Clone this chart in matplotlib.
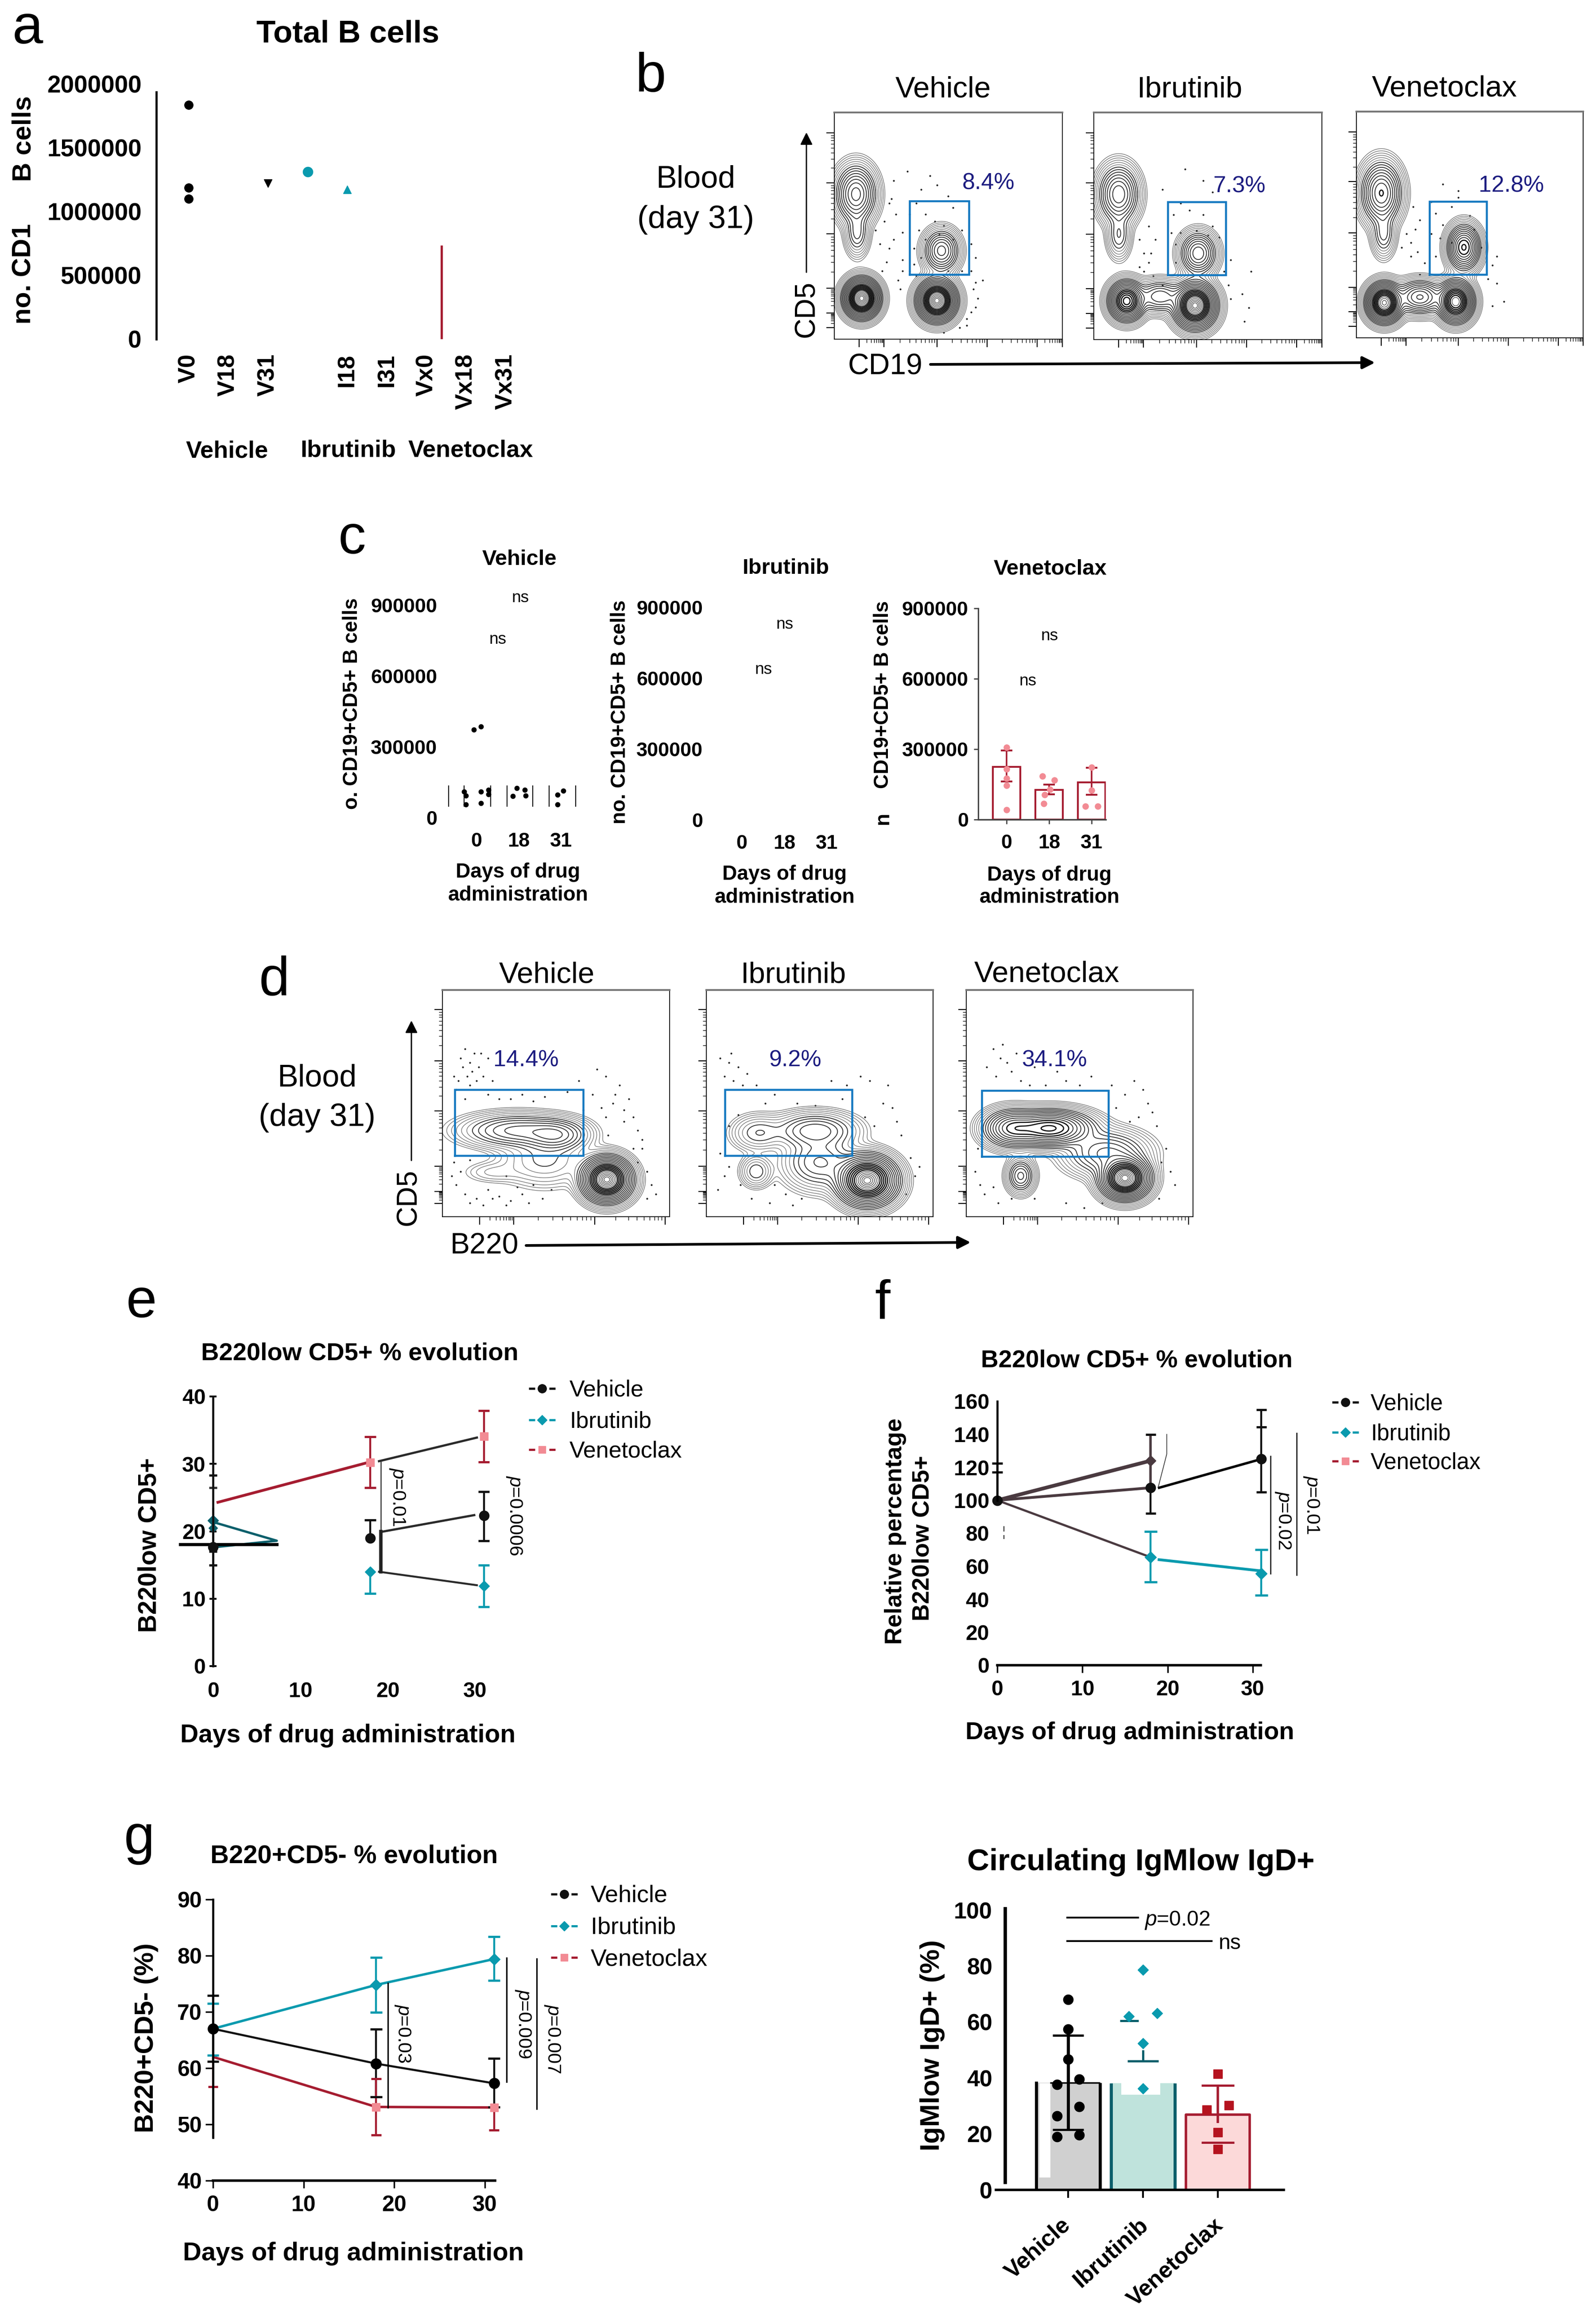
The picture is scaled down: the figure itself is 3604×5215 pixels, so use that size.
import numpy as np
import matplotlib
matplotlib.use('Agg')
import matplotlib.pyplot as plt

plt.rcParams['font.family'] = ['Liberation Sans', 'DejaVu Sans']
plt.rcParams['mathtext.fontset'] = 'custom'
plt.rcParams['mathtext.rm'] = 'Liberation Sans'
plt.rcParams['mathtext.it'] = 'Liberation Sans:italic'
plt.rcParams['mathtext.default'] = 'regular'

W, H = 3605, 5215
BLACK = '#111111'
TEAL = '#0a9aae'
DTEAL = '#0b5f6b'
RED = '#a51c30'
PINK = '#f28b94'
DARKLINE = '#4a3a40'
BLUE = '#1478c0'
NAVY = '#1c1c80'

# panel a
a_labels = ['V0', 'V18', 'V31', '', 'I18', 'I31', 'Vx0', 'Vx18', 'Vx31']
a_yticks = [0, 500000, 1000000, 1500000, 2000000]
a_v0 = [1834000, 1185000, 1100000]
a_v31 = [1220000]
a_i0 = [1310000]
a_i18 = [1172000]
a_vx_bar_pos = 6.38
a_vx_bar_top = 735000

# panel c
c_days = ['0', '18', '31']
c_yticks = [0, 300000, 600000, 900000]
c_veh_dot_x = [-.06, .1, -.29, -.25, .1, .28, .28, .1, -.25, .86, .95, 1.14, 1.16, 1.92, 2.05, 1.92]
c_veh_dot_y = [372700, 386000, 111000, 93000, 111000, 119000, 100000, 62500, 57000,
               91000, 125000, 119000, 93000, 96600, 113600, 57000]
c_veh_frag_x = [-.66, -.29, .34, .72, 1.33, 1.72, 2.35]
c_veh_frag_lo = 47700
c_veh_frag_hi = 136000
c_ven_bars = [225000, 126000, 159000]
c_ven_err_lo = [162000, 107500, 105000]
c_ven_err_hi = [294000, 149000, 220000]
c_ven_dot_x = [0, 0, 0, 0, 0, .84, 1.12, 1.02, .9, .88, 2, 2, 1.85, 2.15]
c_ven_dot_y = [308000, 216000, 175000, 145000, 42000, 185000, 168000, 128000, 105000, 67000,
               223000, 125000, 56000, 56000]

# panel e
days = [0, 18, 31]
e_veh = [17.7, 19.0, 22.3]
e_ibr = [21.6, 14.0, 11.9]
e_ven = [24.3, 30.2, 34.1]
e_veh_lo = [15.0, None, 18.6]
e_veh_hi = [28.3, 21.7, 25.9]
e_ibr_lo = [17.0, 10.8, 8.8]
e_ibr_hi = [None, None, 15.0]
e_ven_lo = [None, 26.5, 30.3]
e_ven_hi = [26.5, 34.0, 37.9]
e_ibr_extra = 20.5

# panel f
f_veh = [100, 107.6, 125]
f_ibr = [100, 65.5, 55.7]
f_ven = [100, 124, None]
f_veh_lo = [None, 92, 105]
f_veh_hi = [122.5, 140, 155]
f_ibr_lo = [None, 50.4, 42.3]
f_ibr_hi = [None, 81, 70]
f_ven_hi31 = 144.5
f_ven_hi0 = 117
f_stray_x = [.8, .8]
f_stray_lo = [81, 76.5]
f_stray_hi = [84.3, 79]

# panel g
g_veh = [67, 60.8, 57.3]
g_ibr = [67, 74.8, 79.4]
g_ven = [62, 53.1, 53.0]
g_veh_lo = [61.2, 54.9, 53.1]
g_veh_hi = [72.9, 66.9, 61.7]
g_ibr_lo = [62.3, 69.9, 75.6]
g_ibr_hi = [71.5, 79.7, 83.4]
g_ven_lo = [56.7, 48.1, 49.0]
g_ven_hi = [None, 58.1, None]

# panel h
h_groups = ['Vehicle', 'Ibrutinib', 'Venetoclax']
h_means = [38.3, 38.2, 26.9]
h_err_lo = [21.5, None, 16.9]
h_err_hi = [55.2, 46.0, 37.4]
h_veh_x = [0, 0, 0, .15, -.15, .15, -.15, -.15, .15]
h_veh_y = [68, 57.5, 46.6, 39.5, 37.6, 29.7, 26.5, 19, 19.6]
h_ibr_x = [1, .81, 1.19, 1, 1]
h_ibr_y = [78.6, 62, 63.2, 52.3, 36.3]
h_ven_x = [2, 1.85, 2.15, 2, 2]
h_ven_y = [41.4, 28.6, 30.3, 20.5, 14.5]

# flow plots: populations (x, y, sx, sy, weight), percent of the box
b_veh_pops = [(9.5, 64, 4.2, 6.0, .3), (10, 47, 2.6, 5, .08), (12, 18, 3.6, 4.0, 1), (45, 17, 3.9, 4.2, 1), (47, 39, 3.7, 4.4, .24)]
b_ibr_pops = [(10.9, 64, 4.2, 6.0, .26), (11, 46, 2.6, 5, .07), (14.4, 17, 3.6, 4.0, .7), (44.4, 15, 4.2, 4.6, 1),
              (29, 19, 5, 3.5, .16), (45.8, 38, 3.8, 4.4, .26)]
b_ven_pops = [(11, 64, 4.2, 6.4, .34), (12, 46, 2.6, 5, .08), (12.3, 15.5, 3.6, 4.0, .9), (43.8, 16, 3.6, 4.2, .8),
              (28, 18, 5, 3.6, .28), (47.4, 40, 3.4, 4.6, .42)]
b_veh_gate = (33, 59, 28.6, 61)
b_ibr_gate = (32.4, 57.8, 28.4, 60.6)
b_ven_gate = (32.3, 57.5, 28, 60.2)
d_veh_pops = [(72.4, 16.4, 5, 4.5, 1), (33, 38, 12, 3.7, .14), (50, 36, 7, 3.5, .14), (22, 19.6, 7, 2.6, .012), (45, 25, 10, 6, .04)]
d_ibr_pops = [(71, 16, 6, 5, 1), (48, 38, 9, 4, .12), (23, 37, 6, 4, .05), (22, 20, 3.5, 3.5, .05), (50, 24, 8, 6, .1)]
d_ven_pops = [(70, 17, 5, 4.2, 1), (37, 39, 9, 3.8, .5), (20, 39, 6, 4, .3), (24, 18, 3, 3.7, .14), (62, 28, 9, 5, .14)]
d_veh_gate = (5.5, 62, 27, 56)
d_ibr_gate = (8.2, 64.2, 27, 56)
d_ven_gate = (6.8, 62.6, 26.6, 55.6)

# stray events outside the contours, read by eye
b_veh_dots = [(30, 47), (33, 55), (36, 60), (38, 66), (42, 72), (45, 68), (50, 63), (52, 58), (40, 55), (44, 52), (48, 50),
              (37, 48), (56, 48), (60, 42), (62, 36), (60, 30), (62, 25), (63, 18), (60, 12), (58, 9), (55, 5), (48, 3),
              (30, 30), (28, 26), (29, 22), (30, 35), (27, 55), (25, 62), (26, 70), (32, 74), (35, 33), (33, 30), (40, 44),
              (46, 46), (52, 44), (24, 40), (26, 44), (23, 34), (21, 30), (61, 22), (62, 14), (58, 6), (35, 40), (38, 36), (56, 30),
              (18, 48), (20, 42), (22, 52), (24, 60), (50, 30), (36, 28), (65, 26)]
b_ibr_dots = [(25, 38), (24, 34), (22, 30), (26, 28), (30, 24), (35, 55), (38, 60), (42, 57), (48, 55), (52, 50), (45, 48),
              (38, 47), (36, 42), (55, 45), (60, 35), (69, 30), (65, 20), (68, 14), (66, 8), (30, 66), (40, 75), (48, 70), (52, 65),
              (20, 44), (22, 38), (24, 50), (20, 32), (27, 44), (57, 30), (59, 24), (60, 18), (36, 34), (34, 47), (50, 46)]
b_ven_dots = [(24, 42), (27, 38), (30, 33), (28, 28), (33, 60), (35, 55), (38, 50), (42, 58), (45, 62), (50, 54), (37, 44),
              (42, 42), (55, 40), (60, 32), (62, 24), (60, 14), (45, 65), (38, 68), (28, 52), (25, 58), (22, 46), (24, 36),
              (26, 48), (20, 40), (35, 36), (33, 46), (62, 36), (58, 26), (65, 16), (52, 48)]
d_veh_dots = [(8, 70), (10, 74), (12, 68), (14, 72), (16, 66), (18, 62), (20, 70), (5, 62), (7, 60), (12, 58), (22, 60), (15, 60),
              (10, 52), (20, 54), (30, 52), (35, 54), (45, 53), (60, 60), (68, 65), (72, 62), (78, 58), (82, 52), (75, 50), (70, 48),
              (84, 44), (86, 38), (80, 42), (66, 54), (62, 47), (88, 30), (86, 24), (92, 14), (90, 8), (12, 25), (8, 20), (6, 14),
              (10, 10), (15, 8), (20, 12), (25, 9), (30, 7), (35, 10), (38, 6), (18, 5), (28, 18), (40, 14),
              (9, 66), (13, 64), (17, 72), (11, 62), (6, 56), (25, 52), (40, 51), (55, 55), (76, 54), (80, 47), (72, 44), (88, 34),
              (90, 20), (94, 10), (5, 24), (4, 18), (12, 6), (22, 8), (33, 13), (44, 8), (48, 12), (28, 5), (73, 36), (84, 30)]
d_ibr_dots = [(6, 70), (10, 68), (14, 66), (8, 62), (12, 60), (18, 63), (22, 58), (30, 54), (40, 50), (55, 60), (62, 58), (68, 62),
              (72, 60), (78, 50), (82, 48), (70, 44), (74, 40), (86, 36), (90, 26), (92, 18), (88, 10), (30, 14), (35, 10), (28, 6),
              (10, 22), (6, 28), (5, 12), (42, 8), (14, 45), (10, 40), (11, 72), (16, 58), (26, 50), (48, 49), (60, 52), (80, 58),
              (84, 42), (94, 22), (38, 5), (20, 8), (15, 14), (8, 18)]
d_ven_dots = [(12, 74), (15, 70), (18, 68), (9, 66), (13, 62), (20, 64), (24, 60), (30, 66), (35, 58), (44, 60), (55, 62), (64, 58),
              (70, 54), (74, 60), (80, 50), (76, 44), (84, 40), (88, 30), (90, 20), (85, 8), (12, 13), (8, 10), (20, 8), (30, 8),
              (44, 6), (52, 4), (5, 30), (4, 20), (66, 48), (72, 42), (16, 76), (22, 72), (28, 58), (40, 64), (50, 58), (78, 56),
              (82, 46), (86, 24), (92, 14), (60, 6), (14, 6), (6, 14)]

fig = plt.figure(figsize=(W / 100, H / 100), dpi=100)
fig.patch.set_facecolor('white')

# page axes in image pixels, for the free text and arrows
page = fig.add_axes([0, 0, 1, 1], zorder=20)
page.set_xlim(0, W)
page.set_ylim(H, 0)
page.axis('off')
page.patch.set_alpha(0)


def ax_px(l, t, r, b):
    ax = fig.add_axes([l / W, 1 - b / H, (r - l) / W, (b - t) / H])
    ax.patch.set_alpha(0)
    return ax


def put(x, y, s, px, bold=False, rot=0, color='black', ha='center', va='center', style='normal'):
    # +4: centre anchoring sits a little high against the reference
    page.text(x, y + 4, s, fontsize=px * .72, fontweight='bold' if bold else 'normal', rotation=rot,
              color=color, ha=ha, va=va, fontstyle=style, rotation_mode='anchor')


def arrow(x0, y0, x1, y1, lw_px):
    page.annotate('', xy=(x1, y1), xytext=(x0, y0),
                  arrowprops=dict(arrowstyle='-|>', lw=lw_px * .72, color='black', mutation_scale=42, shrinkA=0, shrinkB=0))


def clean(ax, keep=()):
    for k in ['left', 'right', 'top', 'bottom']:
        ax.spines[k].set_visible(k in keep)


# panel letters
for s, x, y in [('a', 63, 62), ('b', 1470, 171), ('c', 795, 1214), ('d', 620, 2212),
                ('e', 319, 2939), ('f', 1993, 2942), ('g', 315, 4150)]:
    put(x, y, s, 125)

# ---- a ----
put(786, 73, 'Total B cells', 71, bold=True)
ax = ax_px(353, 189, 1200, 766)
ax.set_xlim((353 - 426) / 89.5, (1200 - 426) / 89.5)
ax.set_ylim(0, 2000000)
clean(ax, ['left'])
ax.spines['left'].set_bounds(0, 1934000)
ax.spines['left'].set_linewidth(5 * .72)
ax.spines['left'].set_color(BLACK)
ax.set_yticks(a_yticks)
ax.set_yticklabels([str(v) for v in a_yticks], fontsize=55 * .72, fontweight='bold')
ax.set_xticks(range(len(a_labels)))
ax.set_xticklabels(a_labels, fontsize=54 * .72, fontweight='bold', rotation=90)
ax.tick_params(axis='y', length=0, pad=24)
ax.tick_params(axis='x', length=0, pad=24)
ax.plot([0] * len(a_v0), a_v0, 'o', color='black', ms=14)
ax.plot([2], a_v31, 'v', color='black', ms=13)
ax.plot([3], a_i0, 'o', color=TEAL, ms=16)
ax.plot([4], a_i18, '^', color=TEAL, ms=13)
ax.vlines(a_vx_bar_pos, 0, a_vx_bar_top, color=RED, lw=3.6)
put(54, 615, 'no. CD1', 60, bold=True, rot=90)
put(54, 309, 'B cells', 60, bold=True, rot=90)
put(513, 1015, 'Vehicle', 54, bold=True)
put(786, 1014, 'Ibrutinib', 54, bold=True)
put(1063, 1014, 'Venetoclax', 54, bold=True)


# ---- flow plots ----
def flow(box, pops, gate, dots, xmaj, ymaj, lw_gate=4.5):
    ax = ax_px(*box)
    ax.set_xlim(0, 100)
    ax.set_ylim(0, 100)
    gx, gy = np.meshgrid(np.linspace(0, 100, 600), np.linspace(0, 100, 600))
    z = np.zeros_like(gx)
    for cx, cy, sx, sy, w in pops:
        z += w * np.exp(-.5 * (((gx - cx) / sx) ** 2 + ((gy - cy) / sy) ** 2))
    # levels evenly spaced in radius, dark ring around a paler centre
    radii = np.linspace(3.4, .25, 24)
    levels = np.exp(-.5 * radii ** 2)
    widths = []
    cols = []
    for r in radii:
        if r > 2.6:
            widths.append(.9)
            cols.append('#666666')
        elif r > 1.6:
            widths.append(1.4)
            cols.append('#333333')
        elif r > .8:
            widths.append(1.9)
            cols.append('#111111')
        else:
            widths.append(1.0)
            cols.append('#444444')
    ax.contour(gx, gy, z, levels=levels, colors=cols, linewidths=widths)
    ax.scatter([d[0] for d in dots], [d[1] for d in dots], s=9, color='#222222', lw=0)
    x0, x1, y0, y1 = gate
    ax.plot([x0, x1, x1, x0, x0], [y0, y0, y1, y1, y0], color=BLUE, lw=lw_gate * .72, solid_joinstyle='miter')
    # biexponential style ticks
    ax.set_xticks(xmaj)
    ax.set_yticks(ymaj)
    step = [.3, .48, .6, .7, .78, .85, .9, .95]
    xmin = [a + f * (b - a) for a, b in zip(xmaj[:-1], xmaj[1:]) for f in step]
    ymin = [a + f * (b - a) for a, b in zip(ymaj[:-1], ymaj[1:]) for f in step]
    ax.set_xticks([v for v in xmin if v < 100], minor=True)
    ax.set_yticks([v for v in ymin if v < 100], minor=True)
    ax.tick_params(which='major', length=13, width=1.6, labelbottom=False, labelleft=False)
    ax.tick_params(which='minor', length=6, width=1)
    for k in ['left', 'bottom', 'right']:
        ax.spines[k].set_linewidth(1.3)
    ax.spines['top'].set_linewidth(3)
    ax.spines['top'].set_color('#777777')
    return ax


b_xt = [10.9, 21.8, 45, 67, 89, 100]
b_yt = [5, 11.5, 22.4, 46.4, 69, 91]
flow((1884, 254, 2399, 766), b_veh_pops, b_veh_gate, b_veh_dots, b_xt, b_yt)
flow((2470, 254, 2985, 767), b_ibr_pops, b_ibr_gate, b_ibr_dots, b_xt, b_yt)
flow((3063, 252, 3575, 763), b_ven_pops, b_ven_gate, b_ven_dots, b_xt, b_yt)
put(2130, 198, 'Vehicle', 67)
put(2687, 198, 'Ibrutinib', 67)
put(3262, 197, 'Venetoclax', 67)
put(2232, 410, '8.4%', 52, color=NAVY)
put(2799, 417, '7.3%', 52, color=NAVY)
put(3413, 416, '12.8%', 52, color=NAVY)
put(1571, 401, 'Blood', 70)
put(1571, 493, '(day 31)', 72)
arrow(1821, 615, 1821, 299, 3)
put(1821, 694, 'CD5', 64, rot=90)
put(1999, 824, 'CD19', 66)
arrow(2101, 823, 3105, 819, 6)

d_xt = [16.4, 31.4, 67, 98]
d_yt = [5.9, 11.2, 22.2, 46.7, 68.7, 91.4]
flow((999, 2236, 1512, 2748), d_veh_pops, d_veh_gate, d_veh_dots, d_xt, d_yt)
flow((1595, 2236, 2107, 2748), d_ibr_pops, d_ibr_gate, d_ibr_dots, d_xt, d_yt)
flow((2182, 2236, 2694, 2748), d_ven_pops, d_ven_gate, d_ven_dots, d_xt, d_yt)
put(1235, 2198, 'Vehicle', 67)
put(1792, 2198, 'Ibrutinib', 67)
put(2364, 2196, 'Venetoclax', 67)
put(1188, 2391, '14.4%', 52, color=NAVY)
put(1796, 2391, '9.2%', 52, color=NAVY)
put(2381, 2391, '34.1%', 52, color=NAVY)
put(716, 2432, 'Blood', 70)
put(716, 2520, '(day 31)', 72)
arrow(929, 2621, 929, 2305, 3)
put(922, 2700, 'CD5', 64, rot=90)
put(1094, 2811, 'B220', 66)
arrow(1188, 2813, 2192, 2806, 6)


# ---- c ----
def c_axes(l, t, r, b, c0, step):
    ax = ax_px(l, t, r, b)
    ax.set_xlim((l - c0) / step, (r - c0) / step)
    ax.set_ylim(0, 900000)
    clean(ax)
    ax.set_yticks(c_yticks)
    ax.set_yticklabels([str(v) for v in c_yticks], fontsize=45 * .72, fontweight='bold')
    ax.set_xticks(range(3))
    ax.set_xticklabels(c_days, fontsize=45 * .72, fontweight='bold')
    ax.tick_params(axis='y', length=0, pad=9)
    ax.tick_params(axis='x', length=0, pad=24)
    return ax


ax = c_axes(1000, 1367, 1310, 1847, 1076, 95.5)
ax.vlines(c_veh_frag_x, c_veh_frag_lo, c_veh_frag_hi, color=BLACK, lw=1.6)
ax.plot(c_veh_dot_x, c_veh_dot_y, 'o', color='black', ms=7.5, clip_on=False, ls='none')

ax = c_axes(1600, 1372, 1900, 1852, 1675, 96)

ax = c_axes(2209, 1374, 2497, 1851, 2273, 96)
ax.spines['left'].set_visible(True)
ax.spines['left'].set_color('#444444')
ax.spines['left'].set_linewidth(2.2)
ax.spines['bottom'].set_visible(True)
ax.spines['bottom'].set_color('#444444')
ax.spines['bottom'].set_linewidth(2.5)
ax.tick_params(axis='y', length=7, width=2, color='#444444', pad=9)
ax.tick_params(axis='x', length=7, width=2, color='#444444', pad=17)
ax.bar(range(3), c_ven_bars, width=.64, facecolor='white', edgecolor=RED, lw=3)
for i in range(3):
    ax.vlines(i, c_ven_err_lo[i], c_ven_err_hi[i], color=RED, lw=2.6)
    ax.hlines([c_ven_err_lo[i], c_ven_err_hi[i]], i - .14, i + .14, color=RED, lw=3)
ax.plot(c_ven_dot_x, c_ven_dot_y, 'o', color=PINK, ms=9.5, ls='none')

put(1173, 1259, 'Vehicle', 49, bold=True)
put(1775, 1280, 'Ibrutinib', 49, bold=True)
put(2372, 1282, 'Venetoclax', 49, bold=True)
put(795, 1585, 'o. CD19+CD5+ B cells', 46, bold=True, rot=90)
put(1400, 1604, 'no. CD19+CD5+ B cells', 46, bold=True, rot=90)
put(1994, 1565, 'CD19+CD5+ B cells', 46, bold=True, rot=90)
put(1994, 1844, 'n', 46, bold=True, rot=90)
for x, y in [(1175, 1347), (1124, 1440), (1772, 1406), (1724, 1509), (2370, 1433), (2321, 1535)]:
    put(x, y, 'ns', 37)
for x, y0, y1 in [(1170, 1966, 2018), (1772, 1971, 2023), (2370, 1973, 2023)]:
    put(x, y0, 'Days of drug', 46, bold=True)
    put(x, y1, 'administration', 46, bold=True)


# ---- line panels ----
def ebar(ax, x, lo, hi, col, cap, lw=3.6):
    if lo is not None:
        ax.hlines(lo, x - cap, x + cap, color=col, lw=lw, clip_on=False)
    if hi is not None:
        ax.hlines(hi, x - cap, x + cap, color=col, lw=lw, clip_on=False)


def stem(ax, x, lo, hi, col, lw=3.2):
    ax.vlines(x, lo, hi, color=col, lw=lw, clip_on=False)


def legend(xm, xt, ys, px, cols, mfc):
    names = ['Vehicle', 'Ibrutinib', 'Venetoclax']
    marks = ['o', 'D', 's']
    for name, m, y, c, f in zip(names, marks, ys, cols, mfc):
        page.plot([xm - 30, xm - 16], [y, y], color=c, lw=3.6, solid_capstyle='butt')
        page.plot([xm + 16, xm + 30], [y, y], color=c, lw=3.6, solid_capstyle='butt')
        page.plot([xm], [y], m, color=f, ms=14 if m == 'o' else 11)
        put(xt, y, name, px, ha='left')


def pval(x, y, s):
    put(x, y, r'$\mathit{p}$=' + s, 43, rot=-90)


# e
ax = ax_px(481, 3154, 1100, 3763)
ax.set_xlim(0, (1100 - 481) / 19.73)
ax.set_ylim(0, 40)
clean(ax, ['left'])
ax.spines['left'].set_linewidth(3.4)
ax.spines['left'].set_color(BLACK)
ax.set_xticks([0, 10, 20, 30])
ax.set_yticks([0, 10, 20, 30, 40])
ax.tick_params(axis='x', length=0, labelsize=48 * .72, pad=25)
ax.tick_params(axis='y', length=12, width=3, labelsize=48 * .72, pad=6, direction='inout')
for t in ax.get_xticklabels() + ax.get_yticklabels():
    t.set_fontweight('bold')
# the day 0 to 18 parts of the series are broken up in the figure
ax.plot([.56, 18.3], [24.3, 30.4], color=RED, lw=4.5)
ax.plot([19, 30.2], [30.4, 33.9], color='#2a2a2a', lw=3.6)
ax.plot([19.2, 29.9], [19.9, 22.4], color='#2a2a2a', lw=3.6)
ax.plot([19, 30.2], [14, 12], color='#2a2a2a', lw=3.2)
ax.plot([19.2, 19.2], [30.4, 20], color='#333333', lw=1.8)
ax.plot([19.2, 19.2], [20, 14], color='#222222', lw=5.5)
ax.plot([.2, 7.3, .6], [21.3, 18.6, 17.7], color=DTEAL, lw=3.8, clip_on=False)
ax.plot([-3.75, 7.3], [18.06, 18.06], color='black', lw=5, clip_on=False)
stem(ax, 0, 0, 23.5, BLACK, lw=3.4)
for i in range(1, 3):
    if e_veh_lo[i] is not None:
        stem(ax, days[i], e_veh_lo[i], e_veh_hi[i], BLACK)
    else:
        stem(ax, days[i], e_veh[i], e_veh_hi[i], BLACK)
    stem(ax, days[i], e_ibr_lo[i], e_ibr[i], TEAL)
    stem(ax, days[i], e_ven_lo[i], e_ven_hi[i], RED)
stem(ax, 31, e_ibr[2], e_ibr_hi[2], TEAL)
for i in range(3):
    cap = .65 if i else .45
    ebar(ax, days[i], e_veh_lo[i], e_veh_hi[i], BLACK, cap)
    ebar(ax, days[i], e_ibr_lo[i], e_ibr_hi[i], TEAL if i else BLACK, cap)
    ebar(ax, days[i], e_ven_lo[i], e_ven_hi[i], RED if i else '#333333', cap)
ax.plot(days, e_veh, 'o', color=BLACK, ms=16, ls='none', clip_on=False)
ax.plot(days, e_ibr, 'D', color=TEAL, ms=12.5, ls='none', clip_on=False)
ax.plot([0], [21.6], 'D', color=DTEAL, ms=12, clip_on=False)
ax.plot([0], [e_ibr_extra], 'D', color=DTEAL, ms=10, clip_on=False)
ax.plot(days[1:], e_ven[1:], 's', color=PINK, ms=13, ls='none', clip_on=False)
put(812, 3054, 'B220low CD5+ % evolution', 56, bold=True)
put(786, 3916, 'Days of drug administration', 57, bold=True)
put(338, 3486, 'B220low CD5+', 57, bold=True, rot=90)
pval(897, 3377, '0.01')
pval(1161, 3419, '0.0006')
legend(1224, 1286, [3136, 3207, 3274], 52, [BLACK, TEAL, RED], [BLACK, TEAL, PINK])

# f
ax = ax_px(2252, 3165, 2847, 3761)
ax.set_xlim(0, (2847 - 2252) / 19.23)
ax.set_ylim(0, 160)
clean(ax, ['left', 'bottom'])
ax.spines['left'].set_bounds(100, 160)
ax.spines['left'].set_linewidth(3.4)
ax.spines['bottom'].set_linewidth(4)
ax.set_xticks([0, 10, 20, 30])
ax.set_yticks(range(0, 161, 20))
ax.tick_params(axis='x', length=12, width=2.5, labelsize=48 * .72, pad=12)
ax.tick_params(axis='y', length=0, labelsize=48 * .72, pad=13)
for t in ax.get_xticklabels() + ax.get_yticklabels():
    t.set_fontweight('bold')
ax.plot([0, 18], [f_ven[0], f_ven[1]], color=DARKLINE, lw=6)
ax.plot([0, 18], [f_veh[0], f_veh[1]], color=DARKLINE, lw=4.5)
ax.plot([0, 18], [f_ibr[0], f_ibr[1]], color=DARKLINE, lw=3.6)
ax.plot([19, 31], [f_veh[1], f_veh[2]], color='black', lw=4)
ax.plot([19, 31], [f_ibr[1] - 1.5, f_ibr[2] + 1.5], color=TEAL, lw=4.5)
ax.plot([18.9, 19.9, 19.9], [108, 128, 140], color='#333333', lw=1.2)
stem(ax, 18, f_veh[1], f_veh_hi[1], DARKLINE, lw=4)
stem(ax, 18, f_veh_lo[1], f_veh[1], BLACK)
stem(ax, 31, f_veh_lo[2], f_veh_hi[2], BLACK)
stem(ax, 18, f_ibr_lo[1], f_ibr_hi[1], TEAL)
stem(ax, 31, f_ibr_lo[2], f_ibr_hi[2], TEAL)
stem(ax, 0, 100, 122.5, BLACK)
ax.vlines(f_stray_x, f_stray_lo, f_stray_hi, color='#333333', lw=1.6)
for i in [0, 1, 2]:
    ebar(ax, days[i], f_veh_lo[i], f_veh_hi[i], BLACK, .6)
    ebar(ax, days[i], f_ibr_lo[i], f_ibr_hi[i], TEAL, .75)
ebar(ax, 31, None, f_ven_hi31, BLACK, .6)
ebar(ax, 0, None, f_ven_hi0, BLACK, .6)
ax.plot(days, f_veh, 'o', color=BLACK, ms=16, ls='none', clip_on=False)
ax.plot(days[1:], f_ibr[1:], 'D', color=TEAL, ms=13, ls='none', clip_on=False)
ax.plot([18], [f_ven[1]], 'D', color=DARKLINE, ms=12, clip_on=False)
page.plot([2869, 2869], [3289, 3554], color='#333333', lw=2.2)
page.plot([2928, 2928], [3237, 3557], color='#333333', lw=2.2)
pval(2897, 3430, '0.02')
pval(2961, 3395, '0.01')
put(2567, 3070, 'B220low CD5+ % evolution', 55, bold=True)
put(2551, 3910, 'Days of drug administration', 56, bold=True)
put(2022, 3454, 'Relative percentage', 54, bold=True, rot=90)
put(2084, 3470, 'B220low CD5+', 54, bold=True, rot=90)
legend(3038, 3095, [3167, 3235, 3300], 51, [BLACK, TEAL, RED], [BLACK, TEAL, PINK])

# g
ax = ax_px(481, 4290, 1118, 4925)
ax.set_xlim(0, (1118 - 481) / 20.47)
ax.set_ylim(40, 90)
clean(ax, ['left', 'bottom'])
ax.spines['left'].set_bounds(47.6, 90)
ax.spines['left'].set_linewidth(3.4)
ax.spines['bottom'].set_linewidth(4)
ax.set_xticks([0, 10, 20, 30])
ax.set_yticks(range(40, 91, 10))
ax.tick_params(axis='x', length=12, width=2.5, labelsize=50 * .72, pad=12)
ax.tick_params(axis='y', length=12, width=2.5, labelsize=50 * .72, pad=6)
for t in ax.get_xticklabels() + ax.get_yticklabels():
    t.set_fontweight('bold')
ax.plot(days, g_ibr, color=TEAL, lw=4)
ax.plot(days, g_veh, color=BLACK, lw=3.4)
ax.plot(days, g_ven, color=RED, lw=4)
for i in range(3):
    stem(ax, days[i], g_veh_lo[i], g_veh_hi[i], BLACK)
    if i:
        stem(ax, days[i], g_ibr_lo[i], g_ibr_hi[i], TEAL)
    if g_ven_hi[i] is not None:
        stem(ax, days[i], g_ven_lo[i], g_ven_hi[i], RED)
    else:
        stem(ax, days[i], g_ven_lo[i], g_ven[i], RED)
    ebar(ax, days[i], g_veh_lo[i], g_veh_hi[i], BLACK, .65)
    ebar(ax, days[i], g_ibr_lo[i], g_ibr_hi[i], TEAL, .65)
    ebar(ax, days[i], g_ven_lo[i], g_ven_hi[i], RED, .55)
stem(ax, 0, 47.6, 67, BLACK, lw=3.4)
ax.plot(days[1:], g_ibr[1:], 'D', color=TEAL, ms=13, ls='none', clip_on=False)
ax.plot(days, g_veh, 'o', color='black', ms=17, ls='none', clip_on=False)
ax.plot(days[1:], g_ven[1:], 's', color=PINK, ms=13, ls='none', clip_on=False)
page.plot([876, 876], [4479, 4760], color='black', lw=2.4)
page.plot([1144, 1144], [4422, 4702], color='black', lw=2.4)
page.plot([1212, 1212], [4424, 4763], color='black', lw=2.4)
pval(909, 4589, '0.03')
pval(1181, 4567, '0.009')
pval(1247, 4601, '0.007')
put(800, 4188, 'B220+CD5- % evolution', 58, bold=True)
put(798, 5086, 'Days of drug administration', 58, bold=True)
put(331, 4599, 'B220+CD5- (%)', 60, bold=True, rot=90)
legend(1274, 1334, [4278, 4350, 4421], 54, [BLACK, TEAL, RED], [BLACK, TEAL, PINK])

# ---- h ----
ax = ax_px(2249, 4314, 2899, 4946)
ax.set_xlim((2249 - 2412) / 169, (2899 - 2412) / 169)
ax.set_ylim(0, 100)
clean(ax, ['left', 'bottom'])
ax.spines['left'].set_position(('data', (2270 - 2412) / 169))
ax.spines['left'].set_bounds(2.7, 100.5)
ax.spines['left'].set_linewidth(5.5)
ax.spines['bottom'].set_linewidth(4)
ax.set_yticks(range(0, 101, 20))
ax.set_xticks(range(3))
ax.set_xticklabels([])
ax.tick_params(axis='y', length=0, labelsize=52 * .72, pad=21)
ax.tick_params(axis='x', length=13, width=3)
for t in ax.get_yticklabels():
    t.set_fontweight('bold')
hw = .427
ax.bar(range(3), h_means, width=2 * hw, color=['#d0d0d0', '#bfe3dc', '#fcd9d9'], lw=0)
# white gaps in the fills
ax.bar(-.31, 33.8, bottom=4.4, width=.15, color='white', lw=0)
ax.bar(.97, 4.3, bottom=34, width=.52, color='white', lw=0)
ax.vlines([-hw, hw], 0, [38.8, h_means[0]], color='black', lw=5)
ax.hlines(h_means[0], -.24, hw, color='black', lw=2.5)
ax.vlines([1 - hw, 1 + hw], 0, h_means[1], color=DTEAL, lw=5)
ax.plot([2 - hw, 2 - hw, 2 + hw, 2 + hw], [0, h_means[2], h_means[2], 0], color=RED, lw=4)
ax.vlines(0, h_err_lo[0], h_err_hi[0], color='black', lw=5)
ax.hlines([h_err_lo[0], h_err_hi[0]], -.21, .21, color='black', lw=3.6)
ax.vlines(1, h_err_hi[1], 50, color=DTEAL, lw=3.6)
ax.hlines(h_err_hi[1], .79, 1.21, color=DTEAL, lw=3.6)
ax.hlines(60.4, .69, .94, color=DTEAL, lw=3.6)
ax.vlines(2, h_err_lo[2] + 7, h_err_hi[2], color=RED, lw=4)
ax.hlines([h_err_lo[2], h_err_hi[2]], 1.78, 2.22, color=RED, lw=3.6)
ax.plot(h_veh_x, h_veh_y, 'o', color='black', ms=16, ls='none')
ax.plot(h_ibr_x, h_ibr_y, 'D', color=TEAL, ms=12, ls='none')
ax.plot(h_ven_x, h_ven_y, 's', color='#b5131f', ms=14.5, ls='none')
put(2576, 4202, 'Circulating IgMlow IgD+', 69, bold=True)
put(2106, 4616, 'IgMlow IgD+ (%)', 62, bold=True, rot=90)
page.plot([2410, 2570], [4331, 4331], color='black', lw=3)
page.plot([2410, 2736], [4384, 4384], color='black', lw=3)
put(2584, 4333, r'$\mathit{p}$=0.02', 48, ha='left')
put(2752, 4386, 'ns', 48, ha='left')
for name, x, y in zip(h_groups, [2410, 2586, 2755], [5015, 5015, 5015]):
    put(x, y, name, 52, bold=True, rot=42, ha='right')

fig.savefig('out.png', dpi=100, facecolor='white')
